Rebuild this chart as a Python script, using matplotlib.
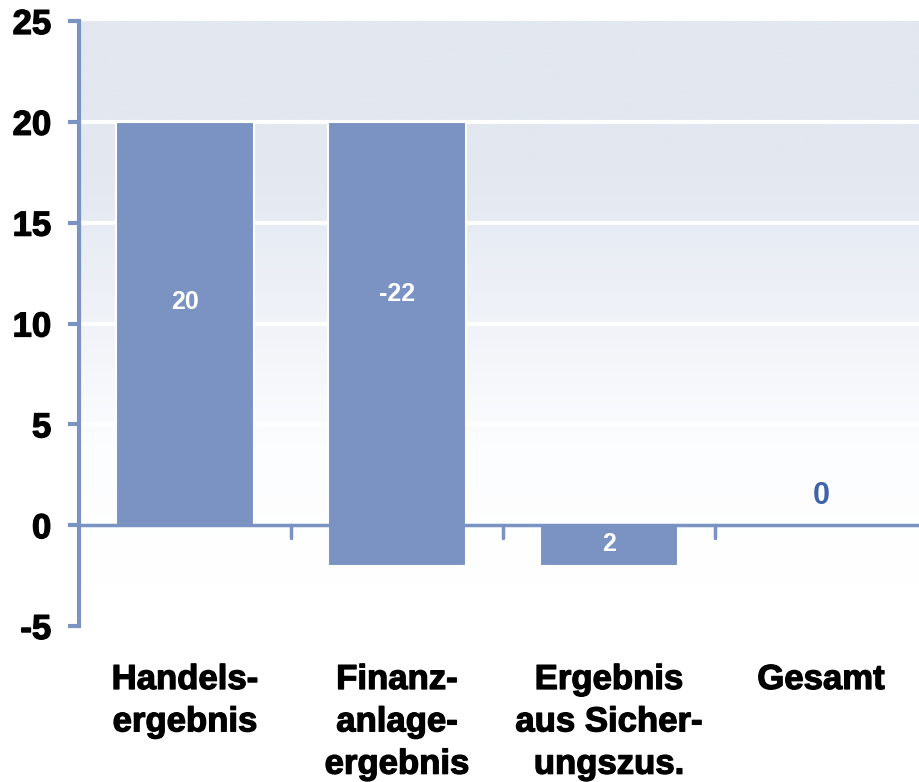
import matplotlib
matplotlib.use("Agg")
import matplotlib.pyplot as plt
import matplotlib.patheffects as pe
import numpy as np
from matplotlib.colors import LinearSegmentedColormap
import matplotlib.transforms as mtransforms

plt.rcParams['font.family'] = ['Liberation Sans', 'DejaVu Sans']

categories = ["Handels-\nergebnis", "Finanz-\nanlage-\nergebnis", "Ergebnis\naus Sicher-\nungszus.", "Gesamt"]
bar_bottom = [0, -2, -2, 0]
bar_top = [20, 20, 0, 0]
bar_labels = ["20", "-22", "2", "0"]
label_y = [11.06, 11.48, -0.92, 1.44]
label_colors = ["white", "white", "white", "#3F62A8"]
label_sizes = [18, 18, 18, 22]
yticks = [-5, 0, 5, 10, 15, 20, 25]

bar_color = "#7A93C2"
axis_color = "#7A93C2"
heavy = [pe.withStroke(linewidth=0.9, foreground='black')]

fig = plt.figure(figsize=(9.19, 7.82), dpi=100)
ax = fig.add_axes([79/919, 1-626/782, 840/919, (626-21)/782])
xmax = -0.5 + 840/212
ax.set_xlim(-0.5, xmax)
ax.set_ylim(-5, 25)

# gradient background
cmap = LinearSegmentedColormap.from_list("bg", ["#FFFFFF", "#FCFDFE", "#EEF1F7", "#E2E7F0", "#E2E7F0"])
grad = np.linspace(0, 1, 256).reshape(-1, 1)
ax.imshow(grad, extent=(-0.5, xmax, -3, 25), origin='lower', aspect='auto', cmap=cmap, zorder=0)
ax.set_facecolor("white")

for y in [5, 10, 15, 20]:
    ax.axhline(y, color="white", lw=3, zorder=1)

x = np.arange(len(categories))
heights = [t - b for t, b in zip(bar_top, bar_bottom)]
ax.bar(x, heights, bottom=bar_bottom, width=0.65, color=bar_color, edgecolor="white", linewidth=1.5, zorder=2)

ax.axhline(0, color=axis_color, lw=2.5, zorder=3)

for xi, lab, ly, c, s in zip(x, bar_labels, label_y, label_colors, label_sizes):
    ax.text(xi, ly, lab, ha='center', va='center', color=c, fontsize=s, fontweight='bold', zorder=4)

for sp in ['top', 'right', 'bottom']:
    ax.spines[sp].set_visible(False)
ax.spines['left'].set_color(axis_color)
ax.spines['left'].set_linewidth(3)
ax.set_yticks(yticks)
ax.set_yticklabels([str(v) for v in yticks])
ax.tick_params(axis='y', direction='out', length=8, width=3, color=axis_color, pad=12,
               labelsize=25, labelcolor='black')
for t in ax.get_yticklabels():
    t.set_fontweight('bold')
    t.set_path_effects(heavy)

# category boundary ticks below zero line
ax.set_xticks([])
for b in [0.5, 1.5, 2.5]:
    ax.plot([b, b], [0, -0.62], color=axis_color, lw=2.5, solid_capstyle='round', zorder=3, clip_on=False)

trans = mtransforms.blended_transform_factory(ax.transData, ax.transAxes)
for xi, c in zip(x, categories):
    ax.text(xi, 1-(663-21)/(626-21), c, transform=trans, ha='center', va='top', fontsize=25,
            fontweight='bold', linespacing=1.36, color='black', path_effects=heavy)

fig.savefig("out.png", dpi=100)
